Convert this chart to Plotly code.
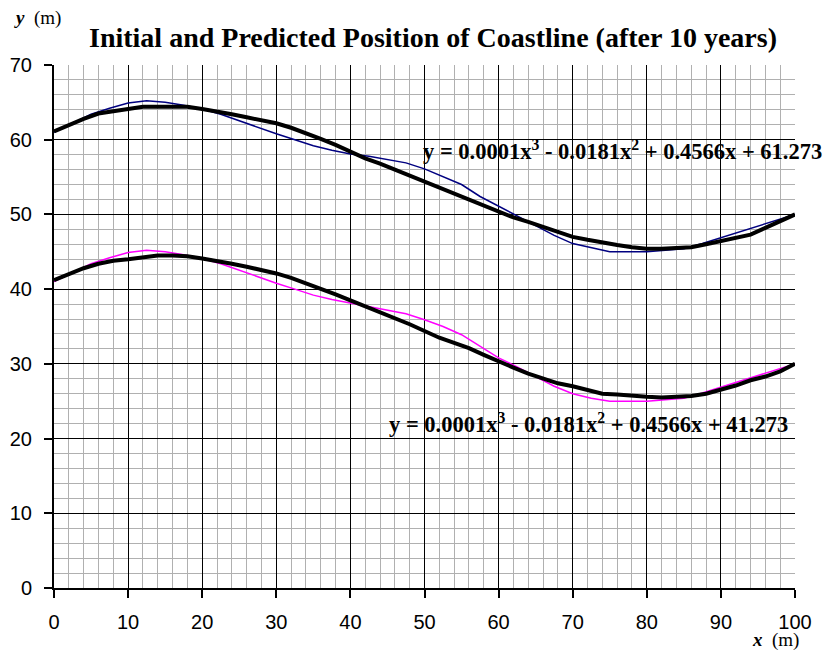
import plotly.graph_objects as go

# Initial coastline (upper, blue)
x_init = [0, 2.5, 5, 7.5, 10, 12.5, 15, 17.5, 20, 22.5, 25, 27.5, 30, 32.5, 35, 37.5, 40, 42.5, 45, 47.5, 50,
          52.5, 55, 57.5, 60, 62.5, 65, 67.5, 70, 72.5, 75, 77.5, 80, 82.5, 85, 87.5, 90, 92.5, 95, 97.5, 100]
y_init_upper = [61.0, 62.2, 63.4, 64.2, 64.9, 65.2, 65.0, 64.6, 64.1, 63.4, 62.5, 61.6, 60.8, 60.0, 59.2, 58.6, 58.1, 57.8,
                57.4, 56.9, 56.1, 55.1, 54.0, 52.4, 51.1, 49.8, 48.5, 47.2, 46.1, 45.5, 45.0, 45.0, 45.0, 45.2, 45.4,
                46.1, 46.9, 47.6, 48.4, 49.2, 50.0]
# Initial coastline (lower, magenta)
y_init_lower = [41.0, 42.2, 43.4, 44.2, 44.9, 45.2, 45.0, 44.6, 44.1, 43.4, 42.5, 41.6, 40.8, 40.0, 39.2, 38.6, 38.1, 37.6,
                37.2, 36.7, 35.9, 35.0, 33.9, 32.3, 30.8, 29.6, 28.3, 27.0, 26.0, 25.4, 25.0, 25.0, 25.0, 25.2, 25.4,
                26.1, 26.9, 27.6, 28.4, 29.2, 30.0]

# Predicted coastline (black, thick)
x_pred = list(range(0, 101, 2))
y_pred_upper = [61.1, 62.0, 62.8, 63.5, 63.8, 64.0, 64.4, 64.4, 64.4, 64.4, 64.1, 63.8, 63.4, 63.0, 62.6, 62.2, 61.6,
                60.9, 60.1, 59.3, 58.4, 57.5, 56.8, 56.0, 55.2, 54.4, 53.5, 52.8, 52.0, 51.2, 50.4, 49.6, 49.0, 48.3,
                47.6, 47.0, 46.6, 46.2, 45.9, 45.6, 45.4, 45.4, 45.5, 45.6, 46.0, 46.4, 46.8, 47.3, 48.2, 49.1, 50.0]
y_pred_lower = [41.2, 42.0, 42.8, 43.4, 43.8, 44.0, 44.3, 44.5, 44.5, 44.4, 44.1, 43.8, 43.4, 43.0, 42.6, 42.1, 41.5,
                40.8, 40.1, 39.3, 38.5, 37.7, 37.0, 36.2, 35.3, 34.4, 33.5, 32.8, 32.1, 31.2, 30.3, 29.5, 28.7, 28.0,
                27.4, 27.0, 26.5, 26.0, 25.9, 25.7, 25.6, 25.5, 25.6, 25.7, 26.0, 26.5, 27.1, 27.8, 28.3, 29.0, 30.0]

x_ticks = [0, 10, 20, 30, 40, 50, 60, 70, 80, 90, 100]
y_ticks = [0, 10, 20, 30, 40, 50, 60, 70]

title_text = "Initial and Predicted Position of Coastline (after 10 years)"
eq_upper = "y = 0.0001x<sup>3</sup> - 0.0181x<sup>2</sup> + 0.4566x + 61.273"
eq_lower = "y = 0.0001x<sup>3</sup> - 0.0181x<sup>2</sup> + 0.4566x + 41.273"

fig = go.Figure()
fig.add_trace(go.Scatter(x=x_init, y=y_init_upper, mode="lines", line=dict(color="#000080", width=1.5), showlegend=False))
fig.add_trace(go.Scatter(x=x_init, y=y_init_lower, mode="lines", line=dict(color="#ff00ff", width=1.5), showlegend=False))
fig.add_trace(go.Scatter(x=x_pred, y=y_pred_upper, mode="lines", line=dict(color="black", width=4), showlegend=False))
fig.add_trace(go.Scatter(x=x_pred, y=y_pred_lower, mode="lines", line=dict(color="black", width=4), showlegend=False))

serif = "Liberation Serif, Times New Roman, serif"
sans = "Liberation Sans, Arial, sans-serif"

axis_common = dict(
    showgrid=True, gridcolor="black", gridwidth=1,
    showline=True, linecolor="black", linewidth=2,
    ticks="outside", ticklen=8, tickwidth=2, tickcolor="black",
    zeroline=False, automargin=False,
    tickfont=dict(family=sans, size=20, color="black"),
    minor=dict(dtick=2, showgrid=True, gridcolor="#b0b0b0", gridwidth=1, ticks=""),
)

# Page has an 8px body margin; plot area targets page px x 54..795, y 65..588
fig.update_layout(
    width=840, height=652,
    margin=dict(l=46, r=53, t=57, b=72),
    paper_bgcolor="white", plot_bgcolor="white",
    xaxis=dict(range=[0, 100], tickvals=x_ticks, ticktext=[str(v) for v in x_ticks],
               ticklabelstandoff=7, **axis_common),
    yaxis=dict(range=[0, 70], tickvals=y_ticks, ticktext=[str(v) for v in y_ticks],
               ticklabelstandoff=8, **axis_common),
    annotations=[
        dict(text="<b>" + title_text + "</b>", xref="paper", yref="paper", x=(433 - 54) / 741, y=(588 - 37) / 523,
             xanchor="center", yanchor="middle", showarrow=False, font=dict(family=serif, size=28, color="black")),
        dict(text="<b><i>y</i></b>  (m)", xref="paper", yref="paper",
             x=(12 - 54) / 741, y=(588 - 18) / 523, xanchor="left", yanchor="middle", showarrow=False,
             font=dict(family=serif, size=19, color="black")),
        dict(text="<b><i>x</i></b>  (m)", xref="paper", yref="paper",
             x=(801 - 54) / 741, y=(588 - 640) / 523, xanchor="right", yanchor="middle", showarrow=False,
             font=dict(family=serif, size=19, color="black")),
        dict(text="<b>" + eq_upper + "</b>", xref="paper", yref="paper", x=(421 - 54) / 741, y=(588 - 150) / 523,
             xanchor="left", yanchor="middle", showarrow=False, font=dict(family=serif, size=22.5, color="black")),
        dict(text="<b>" + eq_lower + "</b>", xref="paper", yref="paper", x=(387 - 54) / 741, y=(588 - 423) / 523,
             xanchor="left", yanchor="middle", showarrow=False, font=dict(family=serif, size=22.5, color="black")),
    ],
)

fig.write_html("out.html")
